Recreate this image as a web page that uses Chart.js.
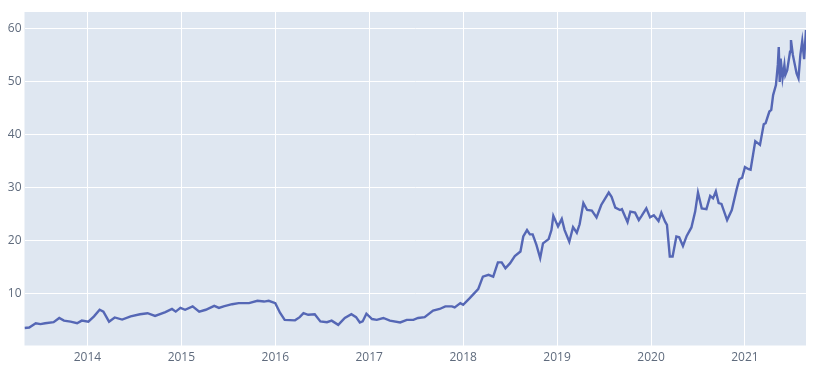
<!DOCTYPE html>
<html>
<head>
<meta charset="utf-8">
<script src="https://cdn.jsdelivr.net/npm/chart.js@4"></script>
<style>
  body { margin: 0; background: #fff; }
</style>
</head>
<body>
<canvas id="line-chart" width="816" height="366"></canvas>
<script>
// decimal years
const dates = [
  2013.33, 2013.38, 2013.45, 2013.50, 2013.55, 2013.64, 2013.70, 2013.75, 2013.82, 2013.89, 2013.94,
  2014.01, 2014.07, 2014.13, 2014.17, 2014.23, 2014.29, 2014.37, 2014.46, 2014.56, 2014.64, 2014.72,
  2014.83, 2014.90, 2014.94, 2014.99, 2015.04, 2015.12, 2015.19, 2015.26, 2015.35, 2015.40, 2015.45,
  2015.54, 2015.61, 2015.72, 2015.81, 2015.88, 2015.93, 2016.00, 2016.05, 2016.10, 2016.21, 2016.26,
  2016.30, 2016.35, 2016.42, 2016.48, 2016.55, 2016.60, 2016.67, 2016.74, 2016.81, 2016.86, 2016.90,
  2016.93, 2016.97, 2017.03, 2017.08, 2017.15, 2017.22, 2017.33, 2017.40, 2017.47, 2017.52, 2017.59,
  2017.68, 2017.75, 2017.81, 2017.88, 2017.91, 2017.97, 2018.00, 2018.07, 2018.16, 2018.21, 2018.27,
  2018.32, 2018.37, 2018.41, 2018.45, 2018.50, 2018.55, 2018.61, 2018.64, 2018.68, 2018.71, 2018.74,
  2018.78, 2018.82, 2018.85, 2018.91, 2018.94, 2018.96, 2019.01, 2019.05, 2019.08, 2019.13, 2019.17,
  2019.21, 2019.24, 2019.28, 2019.32, 2019.37, 2019.42, 2019.47, 2019.55, 2019.58, 2019.62, 2019.67,
  2019.69, 2019.75, 2019.78, 2019.83, 2019.87, 2019.90, 2019.95, 2019.99, 2020.03, 2020.08, 2020.11,
  2020.15, 2020.17, 2020.20, 2020.23, 2020.27, 2020.30, 2020.34, 2020.38, 2020.43, 2020.47, 2020.50,
  2020.54, 2020.59, 2020.63, 2020.66, 2020.69, 2020.72, 2020.75, 2020.81, 2020.86, 2020.91, 2020.94,
  2020.97, 2021.00, 2021.04, 2021.06, 2021.11, 2021.16, 2021.20, 2021.22, 2021.26, 2021.28, 2021.30,
  2021.33, 2021.35, 2021.36, 2021.37, 2021.38, 2021.40, 2021.42, 2021.43, 2021.45, 2021.48, 2021.49,
  2021.51, 2021.55, 2021.57, 2021.59, 2021.61, 2021.63, 2021.65
];
const values = [
  3.4, 3.5, 4.3, 4.15, 4.3, 4.5, 5.3, 4.8, 4.6, 4.3, 4.8,
  4.6, 5.6, 6.85, 6.5, 4.6, 5.4, 5.0, 5.6, 6.0, 6.2, 5.7,
  6.4, 7.0, 6.5, 7.2, 6.85, 7.5, 6.5, 6.85, 7.6, 7.2, 7.5,
  7.9, 8.1, 8.1, 8.55, 8.4, 8.55, 8.1, 6.3, 4.95, 4.85, 5.45,
  6.2, 5.9, 6.0, 4.65, 4.5, 4.8, 4.0, 5.3, 6.0, 5.45, 4.45,
  4.65, 6.1, 5.1, 4.95, 5.3, 4.8, 4.45, 4.95, 4.95, 5.3, 5.45,
  6.7, 7.0, 7.5, 7.5, 7.3, 8.1, 7.8, 9.05, 10.75, 13.1, 13.45,
  13.1, 15.8, 15.8, 14.7, 15.65, 17.0, 17.85, 20.7, 21.9, 21.1, 21.1,
  19.1, 16.6, 19.4, 20.2, 21.9, 24.6, 22.6, 24.0, 21.9, 19.7, 22.45,
  21.4, 23.0, 27.0, 25.7, 25.6, 24.3, 26.65, 29.0, 28.2, 26.15, 25.7,
  25.85, 23.4, 25.4, 25.2, 23.8, 24.6, 26.0, 24.3, 24.7, 23.6, 25.2,
  23.5, 22.9, 16.9, 16.9, 20.7, 20.55, 18.9, 20.8, 22.4, 25.4, 29.0,
  26.0, 25.85, 28.35, 27.9, 29.2, 27.0, 26.85, 23.8, 25.7, 29.5, 31.5,
  31.8, 33.8, 33.4, 33.3, 38.7, 38.0, 41.9, 42.1, 44.3, 44.6, 47.4,
  49.3, 53.1, 56.5, 49.9, 54.3, 50.6, 53.1, 51.2, 52.1, 55.6, 57.8,
  55.0, 51.5, 50.6, 55.0, 57.6, 54.2, 59.7
];
const yearTicks = [2014, 2015, 2016, 2017, 2018, 2019, 2020, 2021];
const valueTicks = [10, 20, 30, 40, 50, 60];

const plotBg = {
  id: 'plotBg',
  beforeDraw(chart) {
    const a = chart.chartArea;
    chart.ctx.save();
    chart.ctx.fillStyle = '#DFE7F1';
    chart.ctx.fillRect(a.left, a.top, a.right - a.left, a.bottom - a.top);
    chart.ctx.restore();
  }
};

new Chart(document.getElementById("line-chart"), {
  type: 'line',
  data: {
    datasets: [
      {
        data: dates.map((d, i) => ({ x: d, y: values[i] })),
        borderColor: '#5567B5',
        borderWidth: 2.4,
        pointRadius: 0,
        tension: 0,
        fill: false
      }
    ]
  },
  options: {
    responsive: false,
    animation: false,
    layout: { padding: { top: 12, right: 10, left: 0, bottom: 0 } },
    plugins: { legend: { display: false }, tooltip: { enabled: false } },
    scales: {
      x: {
        type: 'linear',
        min: dates[0],
        max: dates[dates.length - 1],
        afterBuildTicks: axis => { axis.ticks = yearTicks.map(v => ({ value: v })); },
        afterFit: axis => { axis.height = 20.5; },
        grid: { color: '#ffffff', lineWidth: 1, drawTicks: false },
        border: { display: false },
        ticks: {
          padding: 5,
          color: '#5f6b7d',
          font: { family: 'Open Sans', size: 12 },
          maxRotation: 0,
          callback: v => String(v)
        }
      },
      y: {
        min: 0.1,
        max: 63.1,
        afterBuildTicks: axis => { axis.ticks = valueTicks.map(v => ({ value: v })); },
        afterFit: axis => { axis.width = 24.5; },
        grid: { color: '#ffffff', lineWidth: 1, drawTicks: false },
        border: { display: false },
        ticks: {
          padding: 3,
          color: '#5f6b7d',
          font: { family: 'Open Sans', size: 12 }
        }
      }
    }
  },
  plugins: [plotBg]
});
</script>
</body>
</html>
